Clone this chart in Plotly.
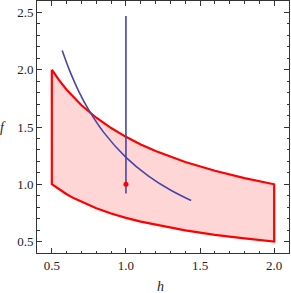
import plotly.graph_objects as go

# Region boundaries
h_band = [0.5, 0.55, 0.6, 0.65, 0.7, 0.8, 0.9, 1.0, 1.1, 1.2, 1.4, 1.6, 1.8, 2.0]
f_upper = [2.0, 1.907, 1.826, 1.754, 1.690, 1.581, 1.491, 1.414, 1.348, 1.291, 1.195, 1.118, 1.054, 1.0]
f_lower = [1.0, 0.953, 0.913, 0.877, 0.845, 0.791, 0.745, 0.707, 0.674, 0.645, 0.598, 0.559, 0.527, 0.5]

# Blue curve
h_curve = [0.57, 0.62, 0.68, 0.75, 0.85, 1.0, 1.15, 1.3, 1.44]
f_curve = [2.167, 1.992, 1.816, 1.647, 1.453, 1.235, 1.074, 0.950, 0.858]

# Vertical line and point
h_vline = [1.0, 1.0]
f_vline = [0.92, 2.47]
h_point = [1.0]
f_point = [1.0]

x_ticks = [0.5, 1.0, 1.5, 2.0]
y_ticks = [0.5, 1.0, 1.5, 2.0, 2.5]

poly_x = h_band + h_band[::-1] + [h_band[0]]
poly_y = f_upper + f_lower[::-1] + [f_upper[0]]

fig = go.Figure()
fig.add_trace(go.Scatter(x=poly_x, y=poly_y, mode="lines", fill="toself",
                         fillcolor="rgba(255,214,214,1)",
                         line=dict(color="#ff0000", width=2.2), hoverinfo="skip"))
fig.add_trace(go.Scatter(x=h_curve, y=f_curve, mode="lines", line_shape="spline",
                         line=dict(color="#4646a6", width=1.6)))
fig.add_trace(go.Scatter(x=h_vline, y=f_vline, mode="lines",
                         line=dict(color="#4646a6", width=1.6)))
fig.add_trace(go.Scatter(x=h_point, y=f_point, mode="markers",
                         marker=dict(color="#ff0000", size=5)))

axis_common = dict(
    showgrid=False, zeroline=False, showline=True, linecolor="#333333", linewidth=1,
    mirror="ticks", ticks="inside", ticklen=5, tickcolor="#333333", automargin=False,
    tickfont=dict(family="Liberation Serif", size=13, color="#222222"),
    minor=dict(ticks="inside", ticklen=2.5, dtick=0.1, tickcolor="#333333"),
)

fig.update_layout(
    width=291, height=293,
    margin=dict(l=37, r=2, t=1, b=40),
    paper_bgcolor="white", plot_bgcolor="white",
    showlegend=False,
    xaxis=dict(range=[0.4, 2.1], tickvals=x_ticks, ticktext=["0.5", "1.0", "1.5", "2.0"],
               **axis_common),
    yaxis=dict(range=[0.4, 2.6], tickvals=y_ticks, ticktext=["0.5", "1.0", "1.5", "2.0", "2.5"],
               **axis_common),
    annotations=[
        dict(text="<i>h</i>", x=0.49, xref="paper", y=-0.095, yref="paper", yanchor="top",
             showarrow=False, font=dict(family="Liberation Serif", size=14, color="#222222")),
        dict(text="<i>f</i>", x=-0.115, xref="paper", y=0.5, yref="paper", xanchor="right",
             showarrow=False, font=dict(family="Liberation Serif", size=14, color="#222222")),
    ],
)

fig.write_html("out.html", config={"displayModeBar": False},
               post_script="document.body.style.margin='0';document.body.style.overflow='hidden';")
